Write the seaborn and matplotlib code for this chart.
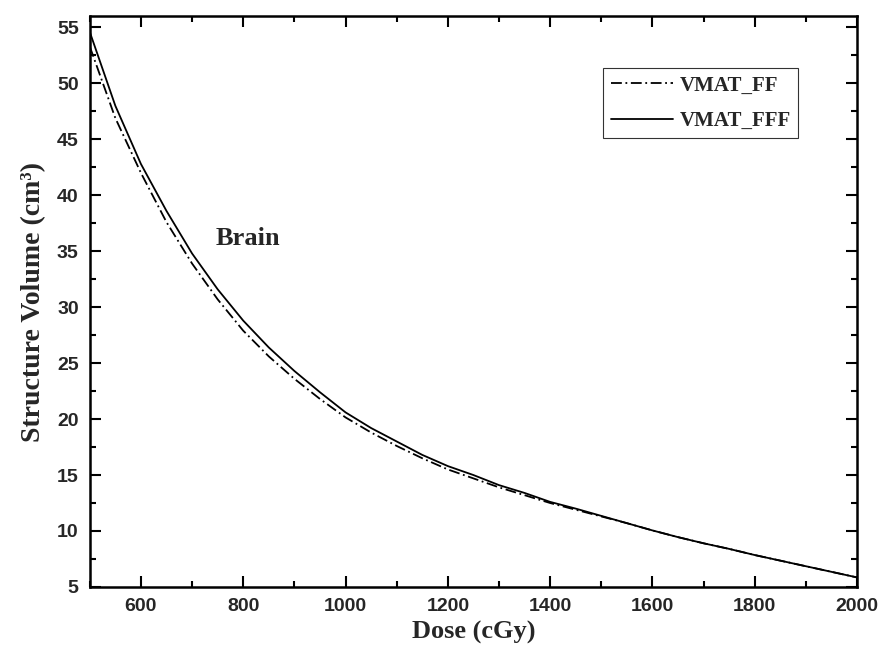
import pandas as pd
import seaborn as sns
import matplotlib.pyplot as plt
from matplotlib.ticker import MultipleLocator

# dose axis (cGy) and structure volume
dose = [500, 550, 600, 650, 700, 750, 800, 850, 900, 950,
        1000, 1050, 1100, 1150, 1200, 1250, 1300, 1350, 1400, 1450,
        1500, 1550, 1600, 1650, 1700, 1750, 1800, 1850, 1900, 1950, 2000]

vmat_ff = [53.3, 46.9, 42.0, 37.6, 33.9, 30.7, 27.9, 25.6, 23.6, 21.8,
           20.15, 18.8, 17.6, 16.5, 15.5, 14.7, 13.9, 13.2, 12.5, 11.9,
           11.3, 10.7, 10.05, 9.45, 8.9, 8.4, 7.85, 7.35, 6.85, 6.35, 5.85]

vmat_fff = [54.6, 48.0, 42.8, 38.6, 34.8, 31.6, 28.8, 26.4, 24.3, 22.4,
            20.6, 19.2, 18.0, 16.8, 15.8, 15.0, 14.1, 13.4, 12.6, 12.0,
            11.35, 10.7, 10.05, 9.45, 8.9, 8.4, 7.85, 7.35, 6.85, 6.35, 5.85]

series_names = ['VMAT_FF', 'VMAT_FFF']

df = pd.DataFrame({
    'dose': dose * 2,
    'volume': vmat_ff + vmat_fff,
    'plan': [series_names[0]] * len(dose) + [series_names[1]] * len(dose),
})

sns.set_style('ticks')
plt.rcParams['font.family'] = ['Liberation Sans', 'DejaVu Sans']

fig = plt.figure(figsize=(8.8, 6.5), dpi=100)
ax = fig.add_axes([0.102, 0.097, 0.872, 0.878])

sns.lineplot(data=df, x='dose', y='volume', hue='plan', style='plan',
             palette=['black', 'black'],
             dashes={'VMAT_FF': (6, 2, 1, 2), 'VMAT_FFF': ''},
             linewidth=1.3, ax=ax)

ax.set_xlim(500, 2000)
ax.set_ylim(5, 56)
ax.xaxis.set_major_locator(MultipleLocator(200))
ax.xaxis.set_minor_locator(MultipleLocator(100))
ax.yaxis.set_major_locator(MultipleLocator(5))
ax.yaxis.set_minor_locator(MultipleLocator(2.5))

# ticks inside, on all four sides
ax.tick_params(which='both', direction='in', top=True, right=True,
               width=1.5, color='black')
ax.tick_params(which='major', length=8, labelsize=14, pad=8)
ax.tick_params(which='minor', length=4.5)
for lab in ax.get_xticklabels() + ax.get_yticklabels():
    lab.set_fontweight('bold')
for s in ax.spines.values():
    s.set_linewidth(1.8)
    s.set_color('black')

serif = ['Liberation Serif', 'DejaVu Serif']
ax.set_xlabel('Dose (cGy)', family=serif, fontsize=19, fontweight='bold', labelpad=4)
ax.set_ylabel('Structure Volume (cm³)', family=serif, fontsize=20, fontweight='bold', labelpad=8)

ax.text(809, 36.1, 'Brain', family=serif, fontsize=19, fontweight='bold',
        ha='center', va='center')

leg = ax.legend(loc='upper right', bbox_to_anchor=(0.923, 0.909),
                borderaxespad=0, frameon=True, fancybox=False, handlelength=3.0,
                borderpad=0.35, labelspacing=0.75, handletextpad=0.3,
                prop={'family': serif, 'weight': 'bold', 'size': 15})
leg.get_frame().set_edgecolor('black')
leg.get_frame().set_linewidth(0.8)

fig.savefig('out.png', dpi=100)
